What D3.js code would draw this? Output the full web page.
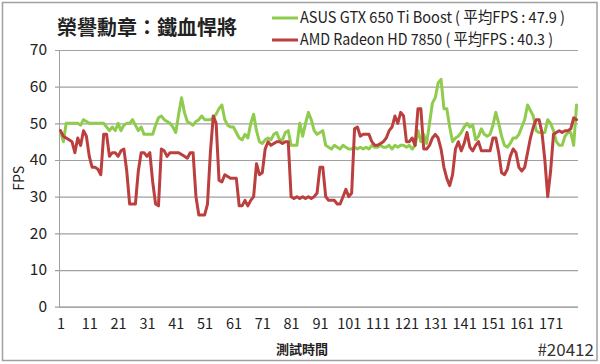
<!DOCTYPE html>
<html><head><meta charset="utf-8">
<script src="https://cdn.jsdelivr.net/npm/d3@7/dist/d3.min.js"></script>
<style>body{margin:0;background:#fff}svg{display:block}</style>
</head><body><svg id="c" width="600" height="364"></svg>
<script>
const chartTitle = "榮譽勳章：鐵血悍將";
const seriesNames = ["ASUS GTX 650 Ti Boost ( 平均FPS : 47.9 )", "AMD Radeon HD 7850 ( 平均FPS : 40.3 )"];
const xTitle = "測試時間";
const yTitle = "FPS";
const footNote = "#20412";
const xTickLabels = [1, 11, 21, 31, 41, 51, 61, 71, 81, 91, 101, 111, 121, 131, 141, 151, 161, 171];
const yTicks = [0, 10, 20, 30, 40, 50, 60, 70];

const gtx650 = [
48,45,50,50,50,50,50,49.5,51,50.5,
50,50,50,50,50,50,49,48,49,48,
50,48,49.5,50,50,51,49.5,48,49,47,
47,47,47,49.5,51.5,52,51,50.5,50,49,
47.5,52.5,57,53,50.5,50,49.5,50.5,51,52,
51,51,51,51.5,52.5,54,55,51,49.5,49,
49,47.5,46,45.5,47,46,50,52.5,48,45,
44.5,45.5,46,45.5,47,47.5,45.5,45.5,47.5,48,
44,44,44,50,46.5,50,53,51,48,47,
47.5,48,44,43.5,43,44,43.5,43,44,43.5,
43,43,43.5,43,43.5,43,43.5,43,44,43.5,
43.5,44,43.5,43.5,44,43,44,43.5,44,44,
43.5,44,43,44,48,45,47,44.5,50,55.5,
57,61,62,54,54,49,45,46,46.5,47.5,
49,50,49,49.5,45.5,46.5,48.5,47,46.5,47,
49.5,53,50,46.5,44,43.5,44.5,46,46,47,
49,51,55,53.5,52,48,47.5,47.5,47.5,51,
50,48,45,44,44,46.5,47.5,47.5,44,55];

const hd7850 = [
48,46.5,46,45.5,45,42,46,44,48,46.5,
41,38,38,37.5,36,47,47,41,42,42,
41,42.5,43,37,28,28,28,37,42,42,
41,42,34,28,27.5,43,42.5,41,42,42,
42,42,41.5,41,40.5,42,42,30,25,25,
25,28,42,52,50,34.5,34,36,35.5,35,
35,35,27.5,27.5,29,27.5,29,30,39,36,
36.5,43,45,44,44.5,45,45,44.5,45,45,
30,29.5,30,29.5,30,29.5,30,29.5,30,31,
38,38,30,29,29,29,28,28,30,32,
30,31,48.5,49,46.5,47,47,47,45,44,
44,44.5,45,46,48,49,52,50,53,52,
45,45,46,44,54,54,43,43,44,46,
47,46,43,38,35,33,36,43,45,42.5,
44.5,47.5,43.5,42.5,44,45,42.5,42.5,42.5,42.5,
46,46,42,36.5,36,37.5,41,43,42,38,
37,38,42,46,49,51,51,47.5,40,30,
37,47,47.5,48,47.5,48,48,48.5,51.5,51];

const categories = gtx650.map((d, i) => i + 1);

const svg = d3.select("#c");
const W = 600, H = 364;
const plot = {left: 59, right: 578, top: 50, bottom: 306.7};
const font = "'Noto Sans CJK TC', 'Noto Sans', sans-serif";

svg.append("rect").attr("x", 0).attr("y", 0).attr("width", W).attr("height", H).attr("fill", "#fff");
svg.append("rect").attr("x", 2.5).attr("y", 2.5).attr("width", 594.5).attr("height", 358)
  .attr("fill", "none").attr("stroke", "#a0a0a0").attr("stroke-width", 1.5);

const x = d3.scalePoint().domain(categories).range([plot.left, plot.right]).padding(0.5);
const y = d3.scaleLinear().domain([0, 70]).range([plot.bottom, plot.top]);

// gridlines / y axis
const yAxis = d3.axisLeft(y).tickValues(yTicks).tickSize(-(plot.right - plot.left)).tickPadding(12);
const gy = svg.append("g").attr("transform", `translate(${plot.left},0)`).call(yAxis);
gy.select(".domain").attr("stroke", "#a0a0a0").attr("stroke-width", 1);
gy.selectAll(".tick line").attr("stroke", "#a0a0a0").attr("stroke-width", 1.2).attr("x1", -4);
gy.selectAll(".tick text").attr("font-family", font).attr("font-size", 15.5).attr("fill", "#222");

// x axis labels
const xAxis = d3.axisBottom(x).tickValues(xTickLabels).tickSize(0).tickPadding(12);
const gx = svg.append("g").attr("transform", `translate(0,${plot.bottom})`).call(xAxis);
gx.select(".domain").remove();
gx.selectAll(".tick text").attr("font-family", font).attr("font-size", 14.5).attr("fill", "#222");

// lines
const line = d3.line().x((d, i) => x(categories[i])).y(d => y(d));
const colors = ["#8fcb4c", "#bb3f3f"];
[gtx650, hd7850].forEach((s, k) => {
  svg.append("path").datum(s).attr("d", line).attr("fill", "none")
    .attr("stroke", colors[k]).attr("stroke-width", 3).attr("stroke-linejoin", "round").attr("stroke-linecap", "round");
});

// title
svg.append("text").attr("x", 57).attr("y", 35).attr("font-family", font).attr("font-size", 20)
  .attr("font-weight", "bold").attr("fill", "#222").text(chartTitle);

// legend
const legendWidths = [265, 253];
seriesNames.forEach((n, k) => {
  const ly = 18 + k * 22;
  svg.append("line").attr("x1", 272).attr("x2", 298).attr("y1", ly).attr("y2", ly)
    .attr("stroke", colors[k]).attr("stroke-width", 3);
  svg.append("text").attr("x", 300).attr("y", ly).attr("dy", "0.35em").attr("font-family", font)
    .attr("font-size", 15.5).attr("fill", "#222")
    .attr("textLength", legendWidths[k]).attr("lengthAdjust", "spacingAndGlyphs").text(n);
});

// axis titles
svg.append("text").attr("transform", `translate(19,${(plot.top + plot.bottom) / 2}) rotate(-90)`)
  .attr("text-anchor", "middle").attr("dy", "0.35em").attr("font-family", font).attr("font-size", 14)
  .attr("fill", "#222").text(yTitle);
svg.append("text").attr("x", 302).attr("y", 354).attr("text-anchor", "middle").attr("font-family", font)
  .attr("font-size", 13).attr("font-weight", "bold").attr("fill", "#222").text(xTitle);
svg.append("text").attr("x", 594).attr("y", 356).attr("text-anchor", "end").attr("font-family", font)
  .attr("font-size", 17).attr("fill", "#333").text(footNote);
</script></body></html>
